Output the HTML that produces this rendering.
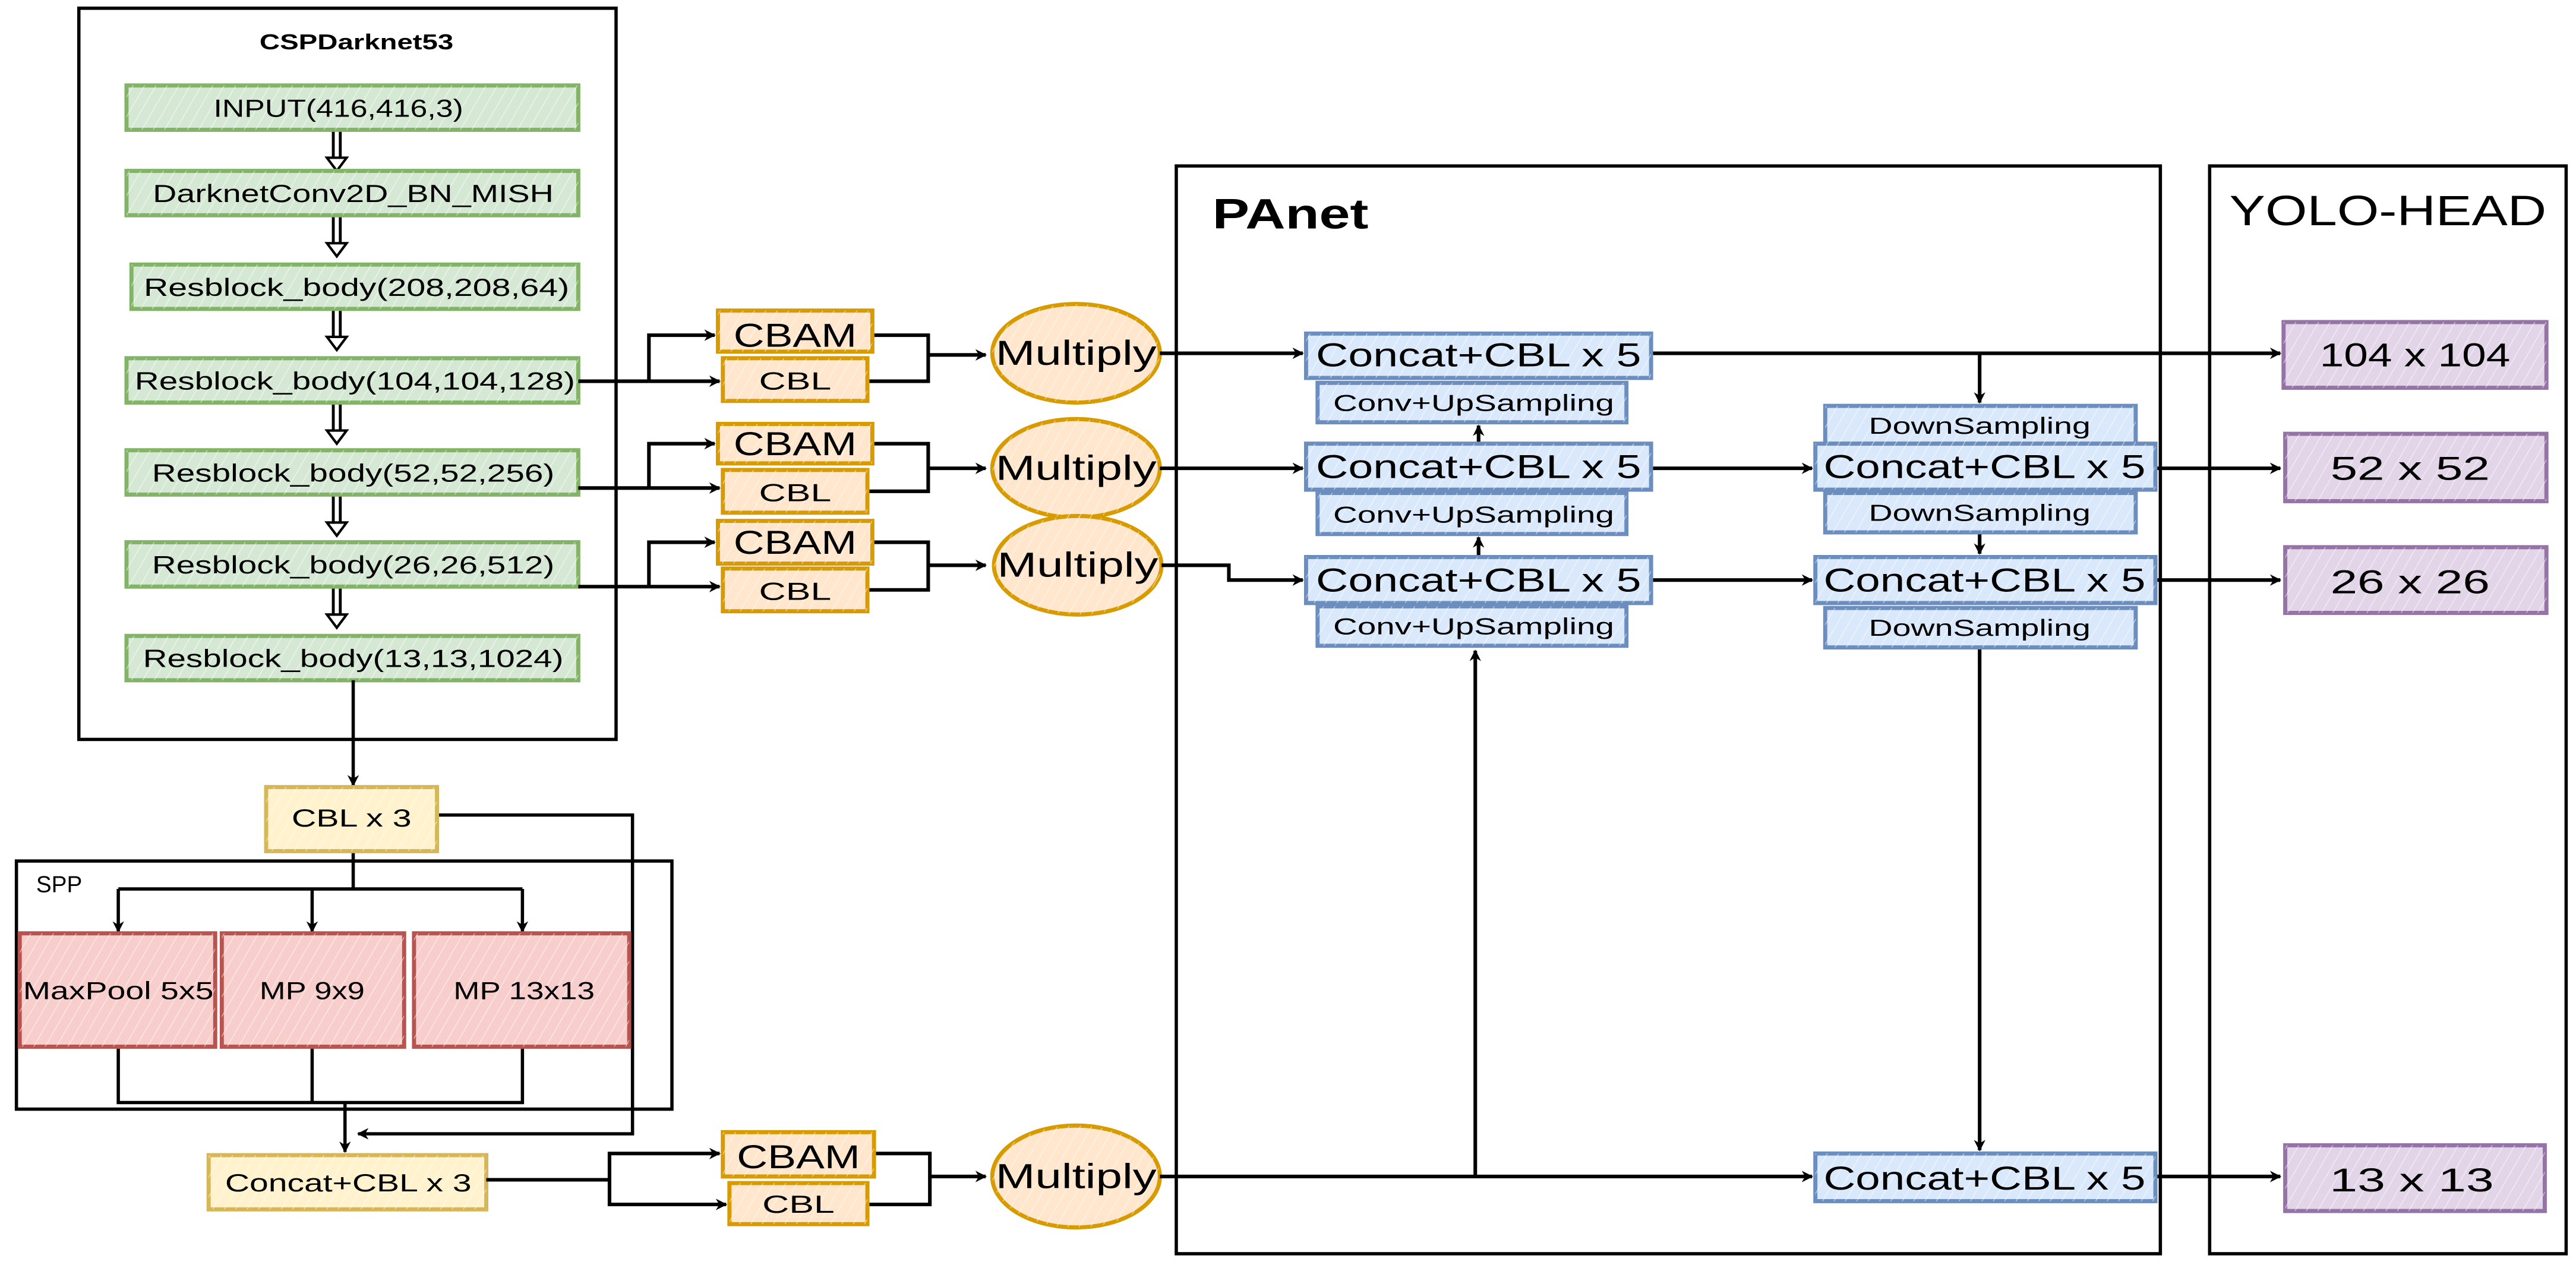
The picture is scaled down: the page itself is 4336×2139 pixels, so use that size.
<!DOCTYPE html>
<html><head><meta charset="utf-8"><style>
html,body{margin:0;padding:0;background:#fff;}
svg{display:block;}
text{font-family:"Liberation Sans",Arial,sans-serif;fill:#000;}
</style></head><body>
<svg width="4336" height="2139" viewBox="0 0 1568 773.5" xmlns="http://www.w3.org/2000/svg">
<defs>
<marker id="a" viewBox="0 0 10 10" refX="9" refY="5" markerWidth="4.5" markerHeight="4.5" orient="auto" markerUnits="userSpaceOnUse"><path d="M0,0 L10,5 L0,10 L3,5 z" fill="#000"/></marker>
<marker id="b" viewBox="0 0 10 10" refX="9" refY="5" markerWidth="7" markerHeight="7" orient="auto" markerUnits="userSpaceOnUse"><path d="M0,0 L10,5 L0,10 L3,5 z" fill="#000"/></marker>
<pattern id="h" width="6" height="6" patternUnits="userSpaceOnUse" patternTransform="rotate(30)"><line x1="0" y1="0" x2="0" y2="6" stroke="#fff" stroke-width="1" opacity="0.55"/></pattern>
</defs>
<g fill="none" stroke="#000" stroke-width="2">
<rect x="48" y="5" width="327" height="445"/>
<rect x="10" y="524" width="399" height="151"/>
<rect x="716" y="101" width="599" height="662"/>
<rect x="1345" y="101" width="217" height="662"/>
</g>
<text x="217" y="30" font-size="13" font-weight="bold" text-anchor="middle" textLength="118" lengthAdjust="spacingAndGlyphs">CSPDarknet53</text>
<text x="738" y="139" font-size="26" font-weight="bold" textLength="95" lengthAdjust="spacingAndGlyphs">PAnet</text>
<text x="1357" y="137" font-size="26" textLength="193" lengthAdjust="spacingAndGlyphs">YOLO-HEAD</text>
<text x="22" y="543" font-size="14" textLength="28" lengthAdjust="spacingAndGlyphs">SPP</text>

<!-- hollow double arrows -->
<g>
<g id="da">
<line x1="205" y1="79" x2="205" y2="98" stroke="#000" stroke-width="6"/>
<line x1="205" y1="79" x2="205" y2="98" stroke="#fff" stroke-width="2.5"/>
<path d="M199,96 L205,104 L211,96 z" fill="#fff" stroke="#000" stroke-width="1.5"/>
</g>
<use href="#da" y="52"/>
<use href="#da" y="109"/>
<use href="#da" y="166"/>
<use href="#da" y="222"/>
<use href="#da" y="278"/>
</g>

<!-- green boxes -->
<g fill="#d5e8d4" stroke="#82b366" stroke-width="2.5">
<rect x="77" y="52" width="275" height="27"/>
<rect x="77" y="104" width="275" height="27"/>
<rect x="80" y="161" width="272" height="27"/>
<rect x="77" y="218" width="275" height="27"/>
<rect x="77" y="274" width="275" height="27"/>
<rect x="77" y="330" width="275" height="27"/>
<rect x="77" y="387" width="275" height="27"/>
</g>
<g fill="url(#h)">
<rect x="77" y="52" width="275" height="27"/><rect x="77" y="104" width="275" height="27"/><rect x="80" y="161" width="272" height="27"/><rect x="77" y="218" width="275" height="27"/><rect x="77" y="274" width="275" height="27"/><rect x="77" y="330" width="275" height="27"/><rect x="77" y="387" width="275" height="27"/>
</g>
<g font-size="15" text-anchor="middle">
<text x="206" y="71" textLength="152" lengthAdjust="spacingAndGlyphs">INPUT(416,416,3)</text>
<text x="215" y="123" textLength="244" lengthAdjust="spacingAndGlyphs">DarknetConv2D_BN_MISH</text>
<text x="217" y="180" textLength="259" lengthAdjust="spacingAndGlyphs">Resblock_body(208,208,64)</text>
<text x="216" y="237" textLength="268" lengthAdjust="spacingAndGlyphs">Resblock_body(104,104,128)</text>
<text x="215" y="293" textLength="245" lengthAdjust="spacingAndGlyphs">Resblock_body(52,52,256)</text>
<text x="215" y="349" textLength="245" lengthAdjust="spacingAndGlyphs">Resblock_body(26,26,512)</text>
<text x="215" y="406" textLength="256" lengthAdjust="spacingAndGlyphs">Resblock_body(13,13,1024)</text>
</g>

<!-- backbone to SPP connectors -->
<g fill="none" stroke="#000" stroke-width="2">
<path d="M215,414 V478" marker-end="url(#b)"/>
<path d="M215,518 V541 M72,541 H318"/>
<path d="M72,541 V567" marker-end="url(#b)"/>
<path d="M190,541 V567" marker-end="url(#b)"/>
<path d="M318,541 V567" marker-end="url(#b)"/>
<path d="M72,637 V671 H318 V637 M190,637 V671"/>
<path d="M210,671 V701" marker-end="url(#b)"/>
<path d="M266,496 H385 V690 H218" marker-end="url(#b)"/>
</g>

<!-- yellow boxes -->
<g fill="#fff2cc" stroke="#d6b656" stroke-width="2.5">
<rect x="162" y="479" width="104" height="39"/>
<rect x="127" y="703" width="169" height="33"/>
</g>
<g fill="url(#h)"><rect x="162" y="479" width="104" height="39"/><rect x="127" y="703" width="169" height="33"/></g>
<text x="214" y="503" font-size="15" text-anchor="middle" textLength="73" lengthAdjust="spacingAndGlyphs">CBL x 3</text>
<text x="212" y="725" font-size="15" text-anchor="middle" textLength="150" lengthAdjust="spacingAndGlyphs">Concat+CBL x 3</text>

<!-- red boxes -->
<g fill="#f8cecc" stroke="#b85450" stroke-width="2.5">
<rect x="12" y="568" width="119" height="69"/>
<rect x="135" y="568" width="111" height="69"/>
<rect x="252" y="568" width="131" height="69"/>
</g>
<g fill="url(#h)"><rect x="12" y="568" width="119" height="69"/><rect x="135" y="568" width="111" height="69"/><rect x="252" y="568" width="131" height="69"/></g>
<g font-size="15" text-anchor="middle">
<text x="72" y="608" textLength="116" lengthAdjust="spacingAndGlyphs">MaxPool 5x5</text>
<text x="190" y="608" textLength="64" lengthAdjust="spacingAndGlyphs">MP 9x9</text>
<text x="319" y="608" textLength="86" lengthAdjust="spacingAndGlyphs">MP 13x13</text>
</g>

<!-- CBAM / CBL connectors -->
<g fill="none" stroke="#000" stroke-width="2.2">
<path d="M352,232 H395"/><path d="M395,232 V204 H435" marker-end="url(#b)"/><path d="M395,232 H438" marker-end="url(#b)"/>
<path d="M531,204 H565 V232 H528 M565,216 H600" marker-end="url(#b)"/>
<path d="M352,297 H395"/><path d="M395,297 V270 H435" marker-end="url(#b)"/><path d="M395,297 H438" marker-end="url(#b)"/>
<path d="M531,270 H565 V299 H528 M565,285 H600" marker-end="url(#b)"/>
<path d="M352,357 H395"/><path d="M395,357 V330 H435" marker-end="url(#b)"/><path d="M395,357 H438" marker-end="url(#b)"/>
<path d="M531,330 H565 V359 H528 M565,344 H600" marker-end="url(#b)"/>
<path d="M296,718 H371"/><path d="M371,718 V702 H438" marker-end="url(#b)"/><path d="M371,718 V733 H442" marker-end="url(#b)"/>
<path d="M532,702 H566 V733 H528 M566,716 H600" marker-end="url(#b)"/>
</g>

<!-- orange boxes -->
<g fill="#ffe6cc" stroke="#d79b00" stroke-width="2.5">
<rect x="437" y="189" width="94" height="25"/><rect x="440" y="218" width="88" height="26"/>
<rect x="437" y="258" width="94" height="24"/><rect x="440" y="286" width="88" height="26"/>
<rect x="437" y="317" width="94" height="26"/><rect x="440" y="346" width="88" height="26"/>
<rect x="440" y="689" width="92" height="27"/><rect x="444" y="720" width="84" height="25"/>
<ellipse cx="655" cy="215" rx="51" ry="30"/>
<ellipse cx="655" cy="285" rx="51" ry="30"/>
<ellipse cx="656" cy="344" rx="51" ry="30"/>
<ellipse cx="655" cy="716" rx="51" ry="31"/>
</g>
<g fill="url(#h)">
<rect x="437" y="189" width="94" height="25"/><rect x="440" y="218" width="88" height="26"/>
<rect x="437" y="258" width="94" height="24"/><rect x="440" y="286" width="88" height="26"/>
<rect x="437" y="317" width="94" height="26"/><rect x="440" y="346" width="88" height="26"/>
<rect x="440" y="689" width="92" height="27"/><rect x="444" y="720" width="84" height="25"/>
<ellipse cx="655" cy="215" rx="51" ry="30"/><ellipse cx="655" cy="285" rx="51" ry="30"/><ellipse cx="656" cy="344" rx="51" ry="30"/><ellipse cx="655" cy="716" rx="51" ry="31"/>
</g>
<g text-anchor="middle">
<g font-size="20">
<text x="484" y="211" textLength="75" lengthAdjust="spacingAndGlyphs">CBAM</text>
<text x="484" y="277" textLength="75" lengthAdjust="spacingAndGlyphs">CBAM</text>
<text x="484" y="337" textLength="75" lengthAdjust="spacingAndGlyphs">CBAM</text>
<text x="486" y="711" textLength="75" lengthAdjust="spacingAndGlyphs">CBAM</text>
</g>
<g font-size="15">
<text x="484" y="237" textLength="44" lengthAdjust="spacingAndGlyphs">CBL</text>
<text x="484" y="305" textLength="44" lengthAdjust="spacingAndGlyphs">CBL</text>
<text x="484" y="365" textLength="44" lengthAdjust="spacingAndGlyphs">CBL</text>
<text x="486" y="738" textLength="44" lengthAdjust="spacingAndGlyphs">CBL</text>
</g>
<g font-size="21">
<text x="655" y="222" textLength="98" lengthAdjust="spacingAndGlyphs">Multiply</text>
<text x="655" y="292" textLength="98" lengthAdjust="spacingAndGlyphs">Multiply</text>
<text x="656" y="351" textLength="98" lengthAdjust="spacingAndGlyphs">Multiply</text>
<text x="655" y="723" textLength="98" lengthAdjust="spacingAndGlyphs">Multiply</text>
</g>
</g>

<!-- PAnet connectors -->
<g fill="none" stroke="#000" stroke-width="2.2">
<path d="M706,215 H793" marker-end="url(#b)"/>
<path d="M706,285 H793" marker-end="url(#b)"/>
<path d="M707,344 H748 V353 H793" marker-end="url(#b)"/>
<path d="M706,716 H1103" marker-end="url(#b)"/>
<path d="M898,716 V396" marker-end="url(#b)"/>
<path d="M900,339 V327" marker-end="url(#b)"/>
<path d="M900,270 V259" marker-end="url(#b)"/>
<path d="M1005,215 H1388" marker-end="url(#b)"/>
<path d="M1205,215 V245" marker-end="url(#b)"/>
<path d="M1005,285 H1103" marker-end="url(#b)"/>
<path d="M1005,353 H1103" marker-end="url(#b)"/>
<path d="M1312,285 H1388" marker-end="url(#b)"/>
<path d="M1312,353 H1388" marker-end="url(#b)"/>
<path d="M1312,716 H1388" marker-end="url(#b)"/>
<path d="M1205,324 V337" marker-end="url(#b)"/>
<path d="M1205,394 V700" marker-end="url(#b)"/>
</g>

<!-- blue boxes -->
<g fill="#dae8fc" stroke="#6c8ebf" stroke-width="2.5">
<rect x="795" y="203" width="210" height="27"/><rect x="802" y="233" width="188" height="24"/>
<rect x="795" y="270" width="210" height="28"/><rect x="802" y="300" width="188" height="25"/>
<rect x="795" y="339" width="210" height="28"/><rect x="802" y="369" width="188" height="24"/>
<rect x="1111" y="247" width="189" height="23"/>
<rect x="1105" y="270" width="207" height="28"/><rect x="1111" y="300" width="189" height="24"/>
<rect x="1105" y="339" width="207" height="28"/><rect x="1111" y="370" width="189" height="24"/>
<rect x="1105" y="702" width="207" height="29"/>
</g>
<g fill="url(#h)">
<rect x="795" y="203" width="210" height="27"/><rect x="802" y="233" width="188" height="24"/>
<rect x="795" y="270" width="210" height="28"/><rect x="802" y="300" width="188" height="25"/>
<rect x="795" y="339" width="210" height="28"/><rect x="802" y="369" width="188" height="24"/>
<rect x="1111" y="247" width="189" height="23"/><rect x="1105" y="270" width="207" height="28"/><rect x="1111" y="300" width="189" height="24"/>
<rect x="1105" y="339" width="207" height="28"/><rect x="1111" y="370" width="189" height="24"/><rect x="1105" y="702" width="207" height="29"/>
</g>
<g text-anchor="middle">
<g font-size="20">
<text x="900" y="223" textLength="198" lengthAdjust="spacingAndGlyphs">Concat+CBL x 5</text>
<text x="900" y="291" textLength="198" lengthAdjust="spacingAndGlyphs">Concat+CBL x 5</text>
<text x="900" y="360" textLength="198" lengthAdjust="spacingAndGlyphs">Concat+CBL x 5</text>
<text x="1208" y="291" textLength="196" lengthAdjust="spacingAndGlyphs">Concat+CBL x 5</text>
<text x="1208" y="360" textLength="196" lengthAdjust="spacingAndGlyphs">Concat+CBL x 5</text>
<text x="1208" y="724" textLength="196" lengthAdjust="spacingAndGlyphs">Concat+CBL x 5</text>
</g>
<g font-size="14">
<text x="897" y="250" textLength="171" lengthAdjust="spacingAndGlyphs">Conv+UpSampling</text>
<text x="897" y="318" textLength="171" lengthAdjust="spacingAndGlyphs">Conv+UpSampling</text>
<text x="897" y="386" textLength="171" lengthAdjust="spacingAndGlyphs">Conv+UpSampling</text>
<text x="1205" y="264" textLength="135" lengthAdjust="spacingAndGlyphs">DownSampling</text>
<text x="1205" y="317" textLength="135" lengthAdjust="spacingAndGlyphs">DownSampling</text>
<text x="1205" y="387" textLength="135" lengthAdjust="spacingAndGlyphs">DownSampling</text>
</g>
</g>

<!-- purple boxes -->
<g fill="#e1d5e7" stroke="#9673a6" stroke-width="2.5">
<rect x="1390" y="196" width="160" height="40"/>
<rect x="1391" y="264" width="159" height="41"/>
<rect x="1391" y="333" width="159" height="40"/>
<rect x="1391" y="697" width="158" height="40"/>
</g>
<g fill="url(#h)"><rect x="1390" y="196" width="160" height="40"/><rect x="1391" y="264" width="159" height="41"/><rect x="1391" y="333" width="159" height="40"/><rect x="1391" y="697" width="158" height="40"/></g>
<g font-size="20" text-anchor="middle">
<text x="1470" y="223" textLength="116" lengthAdjust="spacingAndGlyphs">104 x 104</text>
<text x="1467" y="292" textLength="97" lengthAdjust="spacingAndGlyphs">52 x 52</text>
<text x="1467" y="361" textLength="97" lengthAdjust="spacingAndGlyphs">26 x 26</text>
<text x="1468" y="725" textLength="100" lengthAdjust="spacingAndGlyphs">13 x 13</text>
</g>
</svg>
</body></html>
